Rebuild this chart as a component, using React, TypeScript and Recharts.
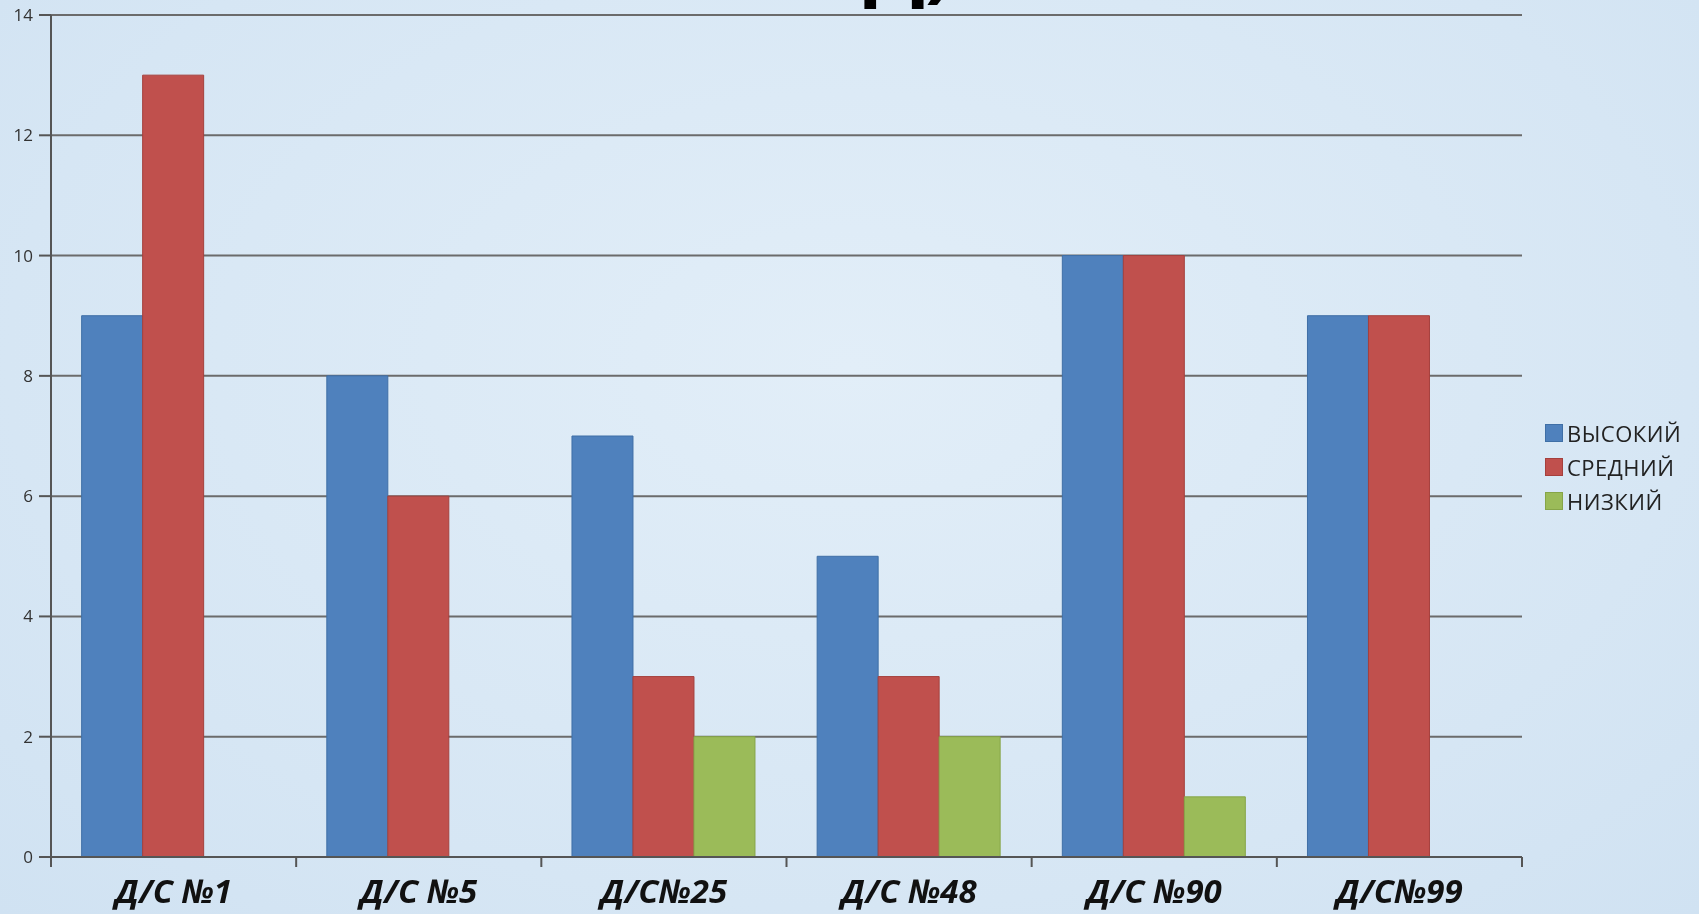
import React from "react";
import { Bar, BarChart, CartesianGrid, Legend, XAxis, YAxis } from "recharts";

const categories = ["Д/С №1", "Д/С №5", "Д/С№25", "Д/С №48", "Д/С №90", "Д/С№99"];
const high = [9, 8, 7, 5, 10, 9];
const medium = [13, 6, 3, 3, 10, 9];
const low = [0, 0, 2, 2, 1, 0];
const yTicks = [0, 2, 4, 6, 8, 10, 12, 14];

const series = [
  { key: "high", name: "ВЫСОКИЙ", color: "#4F81BD", stroke: "#3f6fa6" },
  { key: "medium", name: "СРЕДНИЙ", color: "#C0504D", stroke: "#a5403d" },
  { key: "low", name: "НИЗКИЙ", color: "#9BBB59", stroke: "#86a548" },
];

const data = categories.map((name, i) => ({
  name,
  high: high[i],
  medium: medium[i],
  low: low[i],
}));

const W = 1699;
const H = 914;
const M = { top: 15, right: 177, left: 0, bottom: 0 };
const Y_W = 51;
const X_H = 57;
const band = (W - M.left - M.right - Y_W) / categories.length;

function CategoryTick(props: any) {
  const { x, y, payload, index } = props;
  const left = x - band / 2;
  return (
    <g>
      <line x1={left} y1={y - 8} x2={left} y2={y + 2} stroke="#555" strokeWidth={2} />
      {index === categories.length - 1 && (
        <line x1={x + band / 2} y1={y - 8} x2={x + band / 2} y2={y + 2} stroke="#555" strokeWidth={2} />
      )}
      <text
        x={x}
        y={y + 38}
        textAnchor="middle"
        fontFamily="'Open Sans', sans-serif"
        fontWeight={700}
        fontStyle="italic"
        fontSize={33}
        fill="#111"
      >
        {payload.value}
      </text>
    </g>
  );
}

function LegendBox() {
  return (
    <div style={{ fontFamily: "'Open Sans', sans-serif" }}>
      {series.map((s) => (
        <div key={s.key} style={{ display: "flex", alignItems: "center", height: 34 }}>
          <span
            style={{
              width: 18,
              height: 18,
              background: s.color,
              border: `1px solid ${s.stroke}`,
              marginRight: 4,
              boxSizing: "border-box",
            }}
          />
          <span style={{ fontSize: 22, color: "#222", letterSpacing: 0.5 }}>{s.name}</span>
        </div>
      ))}
    </div>
  );
}

export default function App() {
  return (
    <div
      style={{
        position: "fixed",
        left: 0,
        top: 0,
        width: W,
        height: H,
        background: "radial-gradient(ellipse at 50% 40%, #e2eef8 0%, #d6e6f4 70%, #d0e2f2 100%)",
        overflow: "hidden",
      }}
    >
      <BarChart
        width={W}
        height={H}
        data={data}
        margin={M}
        barCategoryGap="12.5%"
        barGap={0}
      >
        <text
          x={908}
          y={-8}
          textAnchor="middle"
          fontFamily="'Open Sans', sans-serif"
          fontWeight={700}
          fontSize={80}
          fill="#000"
        >
          Д)
        </text>
        <CartesianGrid horizontal vertical={false} stroke="#6b6b6b" strokeWidth={2} />
        <XAxis
          dataKey="name"
          height={X_H}
          axisLine={{ stroke: "#555", strokeWidth: 2 }}
          tickLine={false}
          interval={0}
          tick={<CategoryTick />}
        />
        <YAxis
          width={Y_W}
          domain={[0, 14]}
          ticks={yTicks}
          interval={0}
          axisLine={{ stroke: "#555", strokeWidth: 2 }}
          tickLine={{ stroke: "#555", strokeWidth: 2 }}
          tickSize={12}
          tickMargin={6}
          tick={{ fill: "#333", fontSize: 17, fontFamily: "'Open Sans', sans-serif" }}
        />
        <Legend
          layout="horizontal"
          verticalAlign="middle"
          content={<LegendBox />}
          wrapperStyle={{ position: "absolute", left: 1545, top: 416, width: 154 }}
        />
        {series.map((s) => (
          <Bar
            key={s.key}
            dataKey={s.key}
            name={s.name}
            fill={s.color}
            stroke={s.stroke}
            strokeWidth={1}
            isAnimationActive={false}
          />
        ))}
      </BarChart>
    </div>
  );
}
